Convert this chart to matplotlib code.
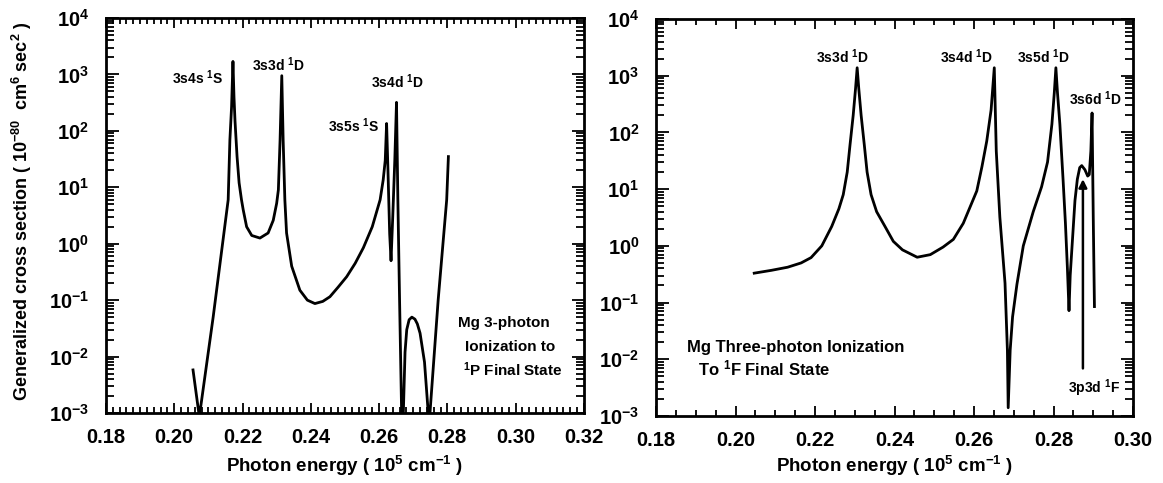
import numpy as np
import matplotlib.pyplot as plt
from matplotlib.ticker import MultipleLocator, LogLocator, FuncFormatter, NullFormatter

plt.rcParams['font.family'] = ['Liberation Sans', 'DejaVu Sans']
plt.rcParams['font.weight'] = 'bold'
plt.rcParams['mathtext.fontset'] = 'custom'
plt.rcParams['mathtext.rm'] = 'Liberation Sans:bold'
plt.rcParams['mathtext.it'] = 'Liberation Sans:bold'
plt.rcParams['mathtext.bf'] = 'Liberation Sans:bold'
plt.rcParams['mathtext.default'] = 'rm'

# Mg 3-photon ionization to 1P final state
energy_p = [0.2055, 0.2072, 0.2075, 0.2114, 0.2158, 0.2163, 0.2168, 0.2172, 0.2175,
            0.2178, 0.2184, 0.2190, 0.2197, 0.2202, 0.2212, 0.2227, 0.2251, 0.2275,
            0.2290, 0.2300, 0.2305, 0.2310, 0.2315, 0.2319, 0.2324, 0.2329, 0.2344,
            0.2368, 0.2390, 0.2412, 0.2435, 0.2456, 0.2480, 0.2505, 0.2530, 0.2554,
            0.2580, 0.2603, 0.2612, 0.2618, 0.2622, 0.2626, 0.2631, 0.2635, 0.2640,
            0.2646, 0.2651, 0.2655, 0.2660, 0.2666, 0.2671, 0.2676, 0.2681, 0.2688,
            0.2696, 0.2705, 0.2712, 0.2720, 0.2733, 0.2744, 0.2749, 0.2773, 0.2798,
            0.2803]
sigma_p = [5.8e-3, 1e-3, 1e-3, 0.05, 6.0, 69, 270, 1700, 400,
           150, 35, 12, 6.0, 4.0, 2.0, 1.4, 1.26, 1.55,
           2.6, 5.2, 9, 69, 950, 69, 6, 1.55, 0.40,
           0.15, 0.10, 0.087, 0.095, 0.115, 0.17, 0.26, 0.45, 0.85,
           2.0, 6, 13.5, 30, 135, 20, 1.5, 0.5, 3,
           30, 320, 6, 0.1, 1e-3, 1e-3, 0.012, 0.03, 0.045,
           0.05, 0.046, 0.038, 0.026, 0.008, 1e-3, 1e-3, 0.1, 6,
           35]

# Mg three-photon ionization to 1F final state (right panel)
energy_f = [0.2047, 0.2090, 0.2131, 0.2165, 0.2190, 0.2217, 0.2242, 0.2260, 0.2271,
            0.2281, 0.2288, 0.2296, 0.2302, 0.2306, 0.2310, 0.2316, 0.2324, 0.2331,
            0.2341, 0.2355, 0.2376, 0.2397, 0.2420, 0.2457, 0.2490, 0.2522, 0.2548,
            0.2573, 0.2607, 0.2620, 0.2632, 0.2643, 0.2651, 0.2656, 0.2665, 0.2678,
            0.2684, 0.2686, 0.2691, 0.2697, 0.2708, 0.2724, 0.2749, 0.2770, 0.2785,
            0.2796, 0.2802, 0.2806, 0.2810, 0.2816, 0.2824, 0.2830, 0.2835, 0.2839,
            0.2842, 0.2846, 0.2854, 0.2860, 0.2866, 0.2871, 0.2879, 0.2886, 0.2890,
            0.2894, 0.2897, 0.2900, 0.2903]
sigma_f = [0.33, 0.37, 0.42, 0.5, 0.62, 1.0, 2.2, 4.5, 8,
           20, 60, 200, 600, 1380, 600, 200, 60, 20,
           8, 4.0, 2.2, 1.2, 0.85, 0.63, 0.7, 0.95, 1.3,
           2.5, 9.3, 25, 70, 250, 1380, 47, 3.2, 0.22,
           0.0145, 1.4e-3, 0.0145, 0.056, 0.21, 1.0, 4.0, 11, 30,
           140, 500, 1380, 500, 140, 15, 2.5, 0.4, 0.072,
           0.3, 0.83, 6.3, 15, 24, 26, 22, 17, 18,
           47, 220, 3.2, 0.085]

peaks_p = ['3s4s $^{1}$S', '3s3d $^{1}$D', '3s4d $^{1}$D', '3s5s $^{1}$S']
peaks_p_x = [0.2070, 0.2304, 0.2653, 0.2527]
peaks_p_y = [890, 1480, 740, 126]

peaks_f = ['3s3d $^{1}$D', '3s4d $^{1}$D', '3s5d $^{1}$D', '3s6d $^{1}$D', '3p3d $^{1}$F']
peaks_f_x = [0.2268, 0.2582, 0.2774, 0.2905, 0.2902]
peaks_f_y = [2140, 2140, 2140, 390, 0.0031]

fig = plt.figure(figsize=(11.63, 4.83), dpi=100)
ax1 = fig.add_axes([0.0911, 0.1449, 0.4110, 0.8178])
ax2 = fig.add_axes([0.5641, 0.1387, 0.4101, 0.8220])

ax1.plot(energy_p, sigma_p, color='black', lw=2)
ax2.plot(energy_f, sigma_f, color='black', lw=2)

for ax, xmax, xminor in ((ax1, 0.32, 0.002), (ax2, 0.30, 0.005)):
    ax.set_yscale('log')
    ax.set_ylim(1e-3, 1e4)
    ax.set_xlim(0.18, xmax)
    ax.xaxis.set_major_locator(MultipleLocator(0.02))
    ax.xaxis.set_minor_locator(MultipleLocator(xminor))
    ax.xaxis.set_major_formatter(FuncFormatter(lambda v, p: '%.2f' % v))
    ax.yaxis.set_major_locator(LogLocator(base=10, numticks=20))
    ax.yaxis.set_minor_locator(LogLocator(base=10, subs=np.arange(2, 10), numticks=20))
    ax.yaxis.set_minor_formatter(NullFormatter())
    ax.yaxis.set_major_formatter(FuncFormatter(lambda v, p: r'$10^{%d}$' % round(np.log10(v))))
    ax.tick_params(which='both', direction='in', top=True, right=True, width=1.3, labelsize=14.5)
    ax.tick_params(axis='x', which='major', length=7, pad=11)
    ax.tick_params(axis='x', which='minor', length=4)
    ax.tick_params(axis='y', which='major', length=9, pad=12)
    ax.tick_params(axis='y', which='minor', length=6)
    for s in ax.spines.values():
        s.set_linewidth(2)

for lab, x, y in zip(peaks_p, peaks_p_x, peaks_p_y):
    ax1.text(x, y, lab, ha='center', va='center', fontsize=10)
for lab, x, y in zip(peaks_f, peaks_f_x, peaks_f_y):
    ax2.text(x, y, lab, ha='center', va='center', fontsize=10)

ax1.text(0.2966, 0.039, 'Mg 3-photon', ha='center', va='center', fontsize=11)
ax1.text(0.2984, 0.0148, 'Ionization to', ha='center', va='center', fontsize=11)
ax1.text(0.2992, 0.0058, '$^{1}$P Final State', ha='center', va='center', fontsize=11)

ax2.text(0.1878, 0.0163, 'Mg Three-photon Ionization', ha='left', va='center', fontsize=12)
ax2.text(0.1906, 0.0069, 'To $^{1}$F Final State', ha='left', va='center', fontsize=12)

ax2.annotate('', xy=(0.2874, 15), xytext=(0.2874, 0.0069),
             arrowprops=dict(arrowstyle='-|>', color='black', lw=1.8,
                             mutation_scale=12, shrinkA=0, shrinkB=0))

fig.text(0.019, 0.563, r'Generalized cross section ( 10$^{-80}$  cm$^{6}$ sec$^{2}$ )',
         rotation=90, ha='center', va='center', fontsize=13)
fig.text(0.2966, 0.035, r'Photon energy ( 10$^{5}$ cm$^{-1}$ )', ha='center', va='center', fontsize=13.5)
fig.text(0.7692, 0.035, r'Photon energy ( 10$^{5}$ cm$^{-1}$ )', ha='center', va='center', fontsize=13.5)

fig.savefig('out.png', dpi=100)
